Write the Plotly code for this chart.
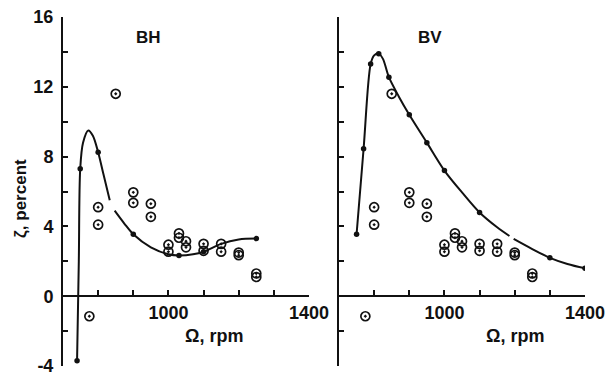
import plotly.graph_objects as go

# Measured damping ratio (open circles), same set shown in both panels
omega_meas = [775, 800, 800, 850, 900, 900, 950, 950, 1000, 1000, 1030, 1030,
              1050, 1050, 1100, 1100, 1150, 1150, 1200, 1200, 1250, 1250]
zeta_meas = [-1.15, 5.1, 4.1, 11.6, 5.95, 5.35, 5.3, 4.55, 2.95, 2.55, 3.6, 3.35,
             3.15, 2.8, 3.0, 2.6, 3.0, 2.55, 2.5, 2.35, 1.3, 1.1]

# BH: predicted points and faired curve through them
bh_pts_omega = [740, 749, 800, 900, 1030, 1100, 1250]
bh_pts_zeta = [-3.7, 7.3, 8.25, 3.55, 2.33, 2.55, 3.3]
bh_curve_omega = [740, 745, 749, 757, 772, 785, 800, 815, 833, None,
                  847, 875, 900, 950, 1000, 1030, 1070, 1100, 1150, 1200, 1250]
bh_curve_zeta = [-3.7, 2.0, 7.3, 8.8, 9.5, 9.2, 8.25, 7.0, 5.5, None,
                 4.9, 4.15, 3.55, 2.8, 2.4, 2.33, 2.4, 2.55, 3.0, 3.25, 3.3]

# BV: predicted points and faired curve through them
bv_pts_omega = [750, 770, 790, 813, 842, 900, 950, 1000, 1100, 1300, 1400]
bv_pts_zeta = [3.55, 8.45, 13.3, 13.9, 12.55, 10.4, 8.8, 7.2, 4.8, 2.2, 1.6]
bv_curve_omega = [750, 770, 790, 800, 813, 825, 842, 870, 900, 950, 1000, 1050,
                  1100, 1150, 1185, None, 1197, 1250, 1300, 1350, 1400]
bv_curve_zeta = [3.55, 8.45, 13.3, 13.8, 13.9, 13.6, 12.55, 11.45, 10.4, 8.8, 7.2, 5.95,
                 4.8, 3.95, 3.45, None, 3.28, 2.7, 2.2, 1.85, 1.6]

x_ticks = [800, 900, 1000, 1100, 1200, 1300, 1400]
x_labels = ["", "", "1000", "", "", "", "1400"]
y_ticks = [-4, -2, 0, 2, 4, 6, 8, 10, 12, 14, 16]
y_labels = ["-4", "", "0", "", "4", "", "8", "", "12", "", "16"]

W, H = 606, 375
FONT = "Liberation Sans, Arial, sans-serif"
INK = "#111111"

yd = [9 / H, 358 / H]
x_pos = yd[0] + (0 - (-4)) / 20 * (yd[1] - yd[0])

fig = go.Figure()

panels = [
    ("x", "y", bh_curve_omega, bh_curve_zeta, bh_pts_omega, bh_pts_zeta),
    ("x2", "y2", bv_curve_omega, bv_curve_zeta, bv_pts_omega, bv_pts_zeta),
]
for xa, ya, cx, cy, px, py in panels:
    fig.add_trace(go.Scatter(x=cx, y=cy, mode="lines", xaxis=xa, yaxis=ya,
                             line=dict(color=INK, width=2, shape="spline", smoothing=0.9),
                             connectgaps=False, hoverinfo="skip"))
    fig.add_trace(go.Scatter(x=px, y=py, mode="markers", xaxis=xa, yaxis=ya,
                             marker=dict(color=INK, size=5.5, symbol="circle")))
    fig.add_trace(go.Scatter(x=omega_meas, y=zeta_meas, mode="markers", xaxis=xa, yaxis=ya,
                             marker=dict(color=INK, size=9, symbol="circle-open-dot",
                                         line=dict(width=1.7, color=INK))))

xcommon = dict(range=[700, 1400], anchor="free", position=x_pos, showline=True,
               linecolor=INK, linewidth=2, ticks="inside", ticklen=5, tickwidth=1.5,
               tickcolor=INK, tickvals=x_ticks, ticktext=x_labels, showgrid=False,
               zeroline=False, ticklabelstandoff=0, automargin=False,
               ticklabeloverflow="allow",
               tickfont=dict(family=FONT, size=18, color=INK, weight="bold"))
ycommon = dict(range=[-4, 16], domain=yd, showline=True, linecolor=INK, linewidth=2,
               ticks="inside", ticklen=5, tickwidth=1.5, tickcolor=INK,
               tickvals=y_ticks, showgrid=False, zeroline=False, automargin=False,
               ticklabeloverflow="allow",
               tickfont=dict(family=FONT, size=18, color=INK, weight="bold"))

fig.update_layout(
    width=W, height=H, autosize=False,
    margin=dict(l=0, r=0, t=0, b=0, pad=0, autoexpand=False),
    paper_bgcolor="white", plot_bgcolor="white", showlegend=False,
    xaxis=dict(domain=[63 / W, 309 / W], **xcommon),
    xaxis2=dict(domain=[339 / W, 585 / W], **xcommon),
    yaxis=dict(anchor="x", ticktext=y_labels, ticklabelstandoff=4, **ycommon),
    yaxis2=dict(anchor="x2", ticktext=[""] * len(y_ticks), **ycommon),
)

def label(text, x, y, size=17, angle=0):
    fig.add_annotation(text=text, x=x / W, y=1 - y / H, xref="paper", yref="paper",
                       xanchor="center", yanchor="middle", showarrow=False, textangle=angle,
                       font=dict(family=FONT, size=size, color=INK, weight="bold"))

label("BH", 148, 38)
label("BV", 430, 38)
label("ζ, percent", 20, 198, angle=-90)
label("Ω, rpm", 214, 336, size=18)
label("Ω, rpm", 515, 336, size=18)

fig.write_html("out.html")
